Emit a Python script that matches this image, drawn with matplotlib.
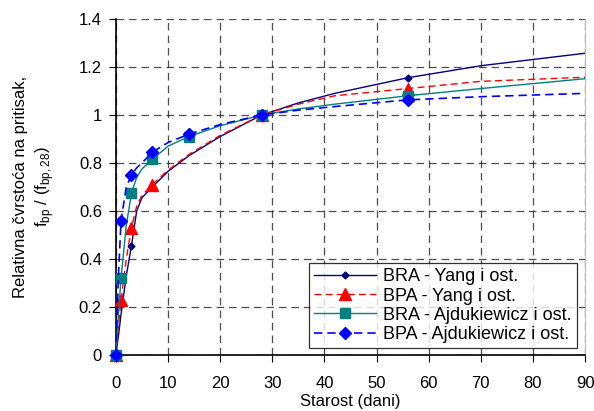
import matplotlib.pyplot as plt

plt.rcParams['font.family'] = ['Liberation Sans', 'DejaVu Sans']
plt.rcParams['mathtext.fontset'] = 'custom'
plt.rcParams['mathtext.rm'] = 'Liberation Sans'

# krive (ocitane vrijednosti duz linija)
t_line = [0, 0.5, 1, 2, 3, 4, 5, 7, 10, 14, 20, 28, 35, 42, 56, 70, 90]
bra_yang_line = [0, 0.08, 0.17, 0.33, 0.455, 0.60, 0.655, 0.70, 0.765, 0.83, 0.91, 1.0, 1.05, 1.09, 1.155, 1.205, 1.257]
bpa_yang_line = [0, 0.12, 0.23, 0.40, 0.53, 0.62, 0.665, 0.71, 0.77, 0.835, 0.915, 1.0, 1.045, 1.08, 1.11, 1.14, 1.157]
bra_ajd_line = [0, 0.17, 0.32, 0.54, 0.675, 0.74, 0.775, 0.815, 0.87, 0.91, 0.955, 1.0, 1.025, 1.045, 1.08, 1.11, 1.151]
bpa_ajd_line = [0, 0.33, 0.56, 0.70, 0.75, 0.78, 0.80, 0.845, 0.885, 0.92, 0.96, 1.0, 1.02, 1.035, 1.063, 1.076, 1.09]

# tacke sa markerima
t_bra_yang = [0, 3, 7, 28, 56]
bra_yang = [0, 0.455, 0.70, 1.0, 1.155]
t_bpa_yang = [0, 1, 3, 7, 28, 56]
bpa_yang = [0, 0.23, 0.53, 0.71, 1.0, 1.11]
t_ajd = [0, 1, 3, 7, 14, 28, 56]
bra_ajd = [0, 0.32, 0.675, 0.815, 0.91, 1.0, 1.08]
bpa_ajd = [0, 0.56, 0.75, 0.845, 0.92, 1.0, 1.063]

labels = ['BRA - Yang i ost.', 'BPA - Yang i ost.',
          'BRA - Ajdukiewicz i ost.', 'BPA - Ajdukiewicz i ost.']

fig = plt.figure(figsize=(5.94, 4.11), dpi=100)
ax = fig.add_axes([0.195, 0.136, 0.79, 0.818])

series = [
    (t_bra_yang, bra_yang, bra_yang_line, '#000080', '-', 'D', 3.5, 1.0),
    (t_bpa_yang, bpa_yang, bpa_yang_line, '#ff0000', (0, (5, 3)), '^', 8, 1.0),
    (t_ajd, bra_ajd, bra_ajd_line, '#008080', '-', 's', 7, 1.0),
    (t_ajd, bpa_ajd, bpa_ajd_line, '#0000ff', (0, (5, 3)), 'D', 6.5, 1.2),
]
handles = []
for i, (tm, ym, yl, c, ls, mk, ms, lw) in enumerate(series):
    ax.plot(t_line, yl, color=c, ls=ls, lw=lw, zorder=3 + i)
    ax.plot(tm, ym, ls='none', marker=mk, ms=ms, color=c, zorder=3 + i, clip_on=False)
    h, = ax.plot([], [], color=c, ls=ls, lw=lw, marker=mk, ms=ms)
    handles.append(h)

ax.set_xlim(0, 90)
ax.set_ylim(0, 1.4)
ax.set_xticks(range(0, 91, 10))
ax.set_yticks([0, 0.2, 0.4, 0.6, 0.8, 1.0, 1.2, 1.4])
ax.set_yticklabels(['0', '0.2', '0.4', '0.6', '0.8', '1', '1.2', '1.4'])
ax.tick_params(labelsize=12, direction='out', length=5, color='black', pad=5)
ax.tick_params(axis='x', pad=10)
ax.grid(True, color='#222222', ls=(0, (6, 4)), lw=0.9, alpha=0.8)
ax.spines['top'].set_visible(False)
ax.spines['right'].set_color('#bbbbbb')
ax.spines['left'].set_linewidth(1.2)
ax.spines['bottom'].set_linewidth(1.2)

ax.set_xlabel('Starost (dani)', fontsize=12, labelpad=2)
ax.set_ylabel('Relativna čvrstoća na pritisak,\nf$_{\\rm bp}$ / (f$_{\\rm bp,28}$)', fontsize=12,
              linespacing=1.3)
ax.yaxis.set_label_coords(-0.128, 0.5)

leg = ax.legend(handles, labels, loc='lower right', bbox_to_anchor=(0.982, 0.02),
                fontsize=13, frameon=True, fancybox=False, handlelength=3.4,
                borderpad=0.3, labelspacing=0.12, handletextpad=0.4, borderaxespad=0)
leg.get_frame().set_edgecolor('black')
leg.get_frame().set_linewidth(0.9)
leg.set_zorder(10)

fig.savefig('out.png', dpi=100)
